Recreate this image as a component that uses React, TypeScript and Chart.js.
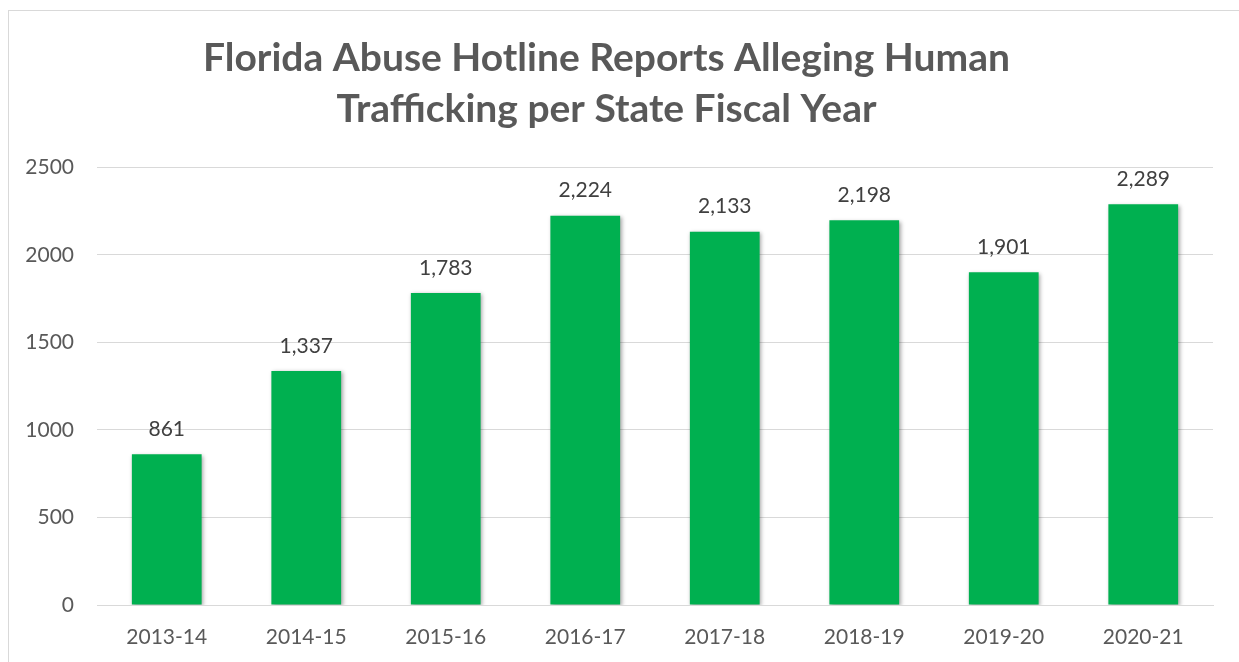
import React, { useEffect, useRef } from "react";
import { Chart, registerables } from "chart.js";

Chart.register(...registerables);

const titleLines = ["Florida Abuse Hotline Reports Alleging Human", "Trafficking per State Fiscal Year"];
const categories = ["2013-14", "2014-15", "2015-16", "2016-17", "2017-18", "2018-19", "2019-20", "2020-21"];
const reports = [861, 1337, 1783, 2224, 2133, 2198, 1901, 2289];
const yMin = 0;
const yMax = 2500;
const yStep = 500;

const FONT = "Lato";

const shadowPlugin = {
  id: "barShadow",
  beforeDatasetsDraw(chart: any) {
    const ctx = chart.ctx;
    ctx.save();
    ctx.shadowColor = "rgba(0,0,0,0.35)";
    ctx.shadowBlur = 4;
    ctx.shadowOffsetX = 1.5;
    ctx.shadowOffsetY = 1.5;
  },
  afterDatasetsDraw(chart: any) {
    chart.ctx.restore();
  },
};

const labelPlugin = {
  id: "barLabels",
  afterDraw(chart: any) {
    const ctx = chart.ctx;
    const meta = chart.getDatasetMeta(0);
    const data = chart.data.datasets[0].data as number[];
    ctx.save();
    ctx.font = `21px ${FONT}`;
    ctx.fillStyle = "#404040";
    ctx.textAlign = "center";
    ctx.textBaseline = "middle";
    meta.data.forEach((el: any, i: number) => {
      ctx.fillText(data[i].toLocaleString("en-US"), el.x, el.y - 25);
    });
    ctx.restore();
  },
};

export default function App() {
  const ref = useRef<HTMLCanvasElement>(null);
  useEffect(() => {
    if (!ref.current) return;
    const chart = new Chart(ref.current, {
      type: "bar",
      data: {
        labels: categories,
        datasets: [
          {
            data: reports,
            backgroundColor: "#00B050",
            borderWidth: 0,
            barPercentage: 0.5,
            categoryPercentage: 1,
          },
        ],
      },
      options: {
        responsive: false,
        animation: false,
        layout: { padding: { left: 0, right: 26, top: 0, bottom: 0 } },
        plugins: {
          legend: { display: false },
          tooltip: { enabled: false },
          title: {
            display: true,
            text: titleLines,
            color: "#595959",
            font: { family: FONT, weight: "bold", size: 39, lineHeight: 1.3 },
            padding: { top: 33, bottom: 33 },
          },
        },
        scales: {
          x: {
            grid: { display: false, drawTicks: false },
            border: { display: true, color: "#d9d9d9", width: 1 },
            ticks: { color: "#595959", font: { family: FONT, size: 21 }, padding: 20 },
            afterFit: (scale: any) => {
              scale.height = 57;
            },
          },
          y: {
            min: yMin,
            max: yMax,
            ticks: {
              stepSize: yStep,
              color: "#595959",
              font: { family: FONT, size: 21 },
              padding: 23,
              callback: (v: any) => String(v),
            },
            grid: { color: "#d9d9d9", lineWidth: 1, drawTicks: false },
            border: { display: false },
            afterFit: (scale: any) => {
              scale.width = 97;
            },
          },
        },
      },
      plugins: [shadowPlugin, labelPlugin],
    });
    return () => chart.destroy();
  }, []);

  return (
    <div
      style={{
        position: "fixed",
        left: 0,
        top: 0,
        width: 1239,
        height: 662,
        overflow: "hidden",
        background: "#ffffff",
      }}
    >
      <div
        style={{
          position: "absolute",
          left: 8,
          top: 10,
          width: 1400,
          height: 800,
          border: "1px solid #d9d9d9",
        }}
      />
      <canvas ref={ref} width={1239} height={662} style={{ position: "absolute", left: 0, top: 0 }} />
    </div>
  );
}
